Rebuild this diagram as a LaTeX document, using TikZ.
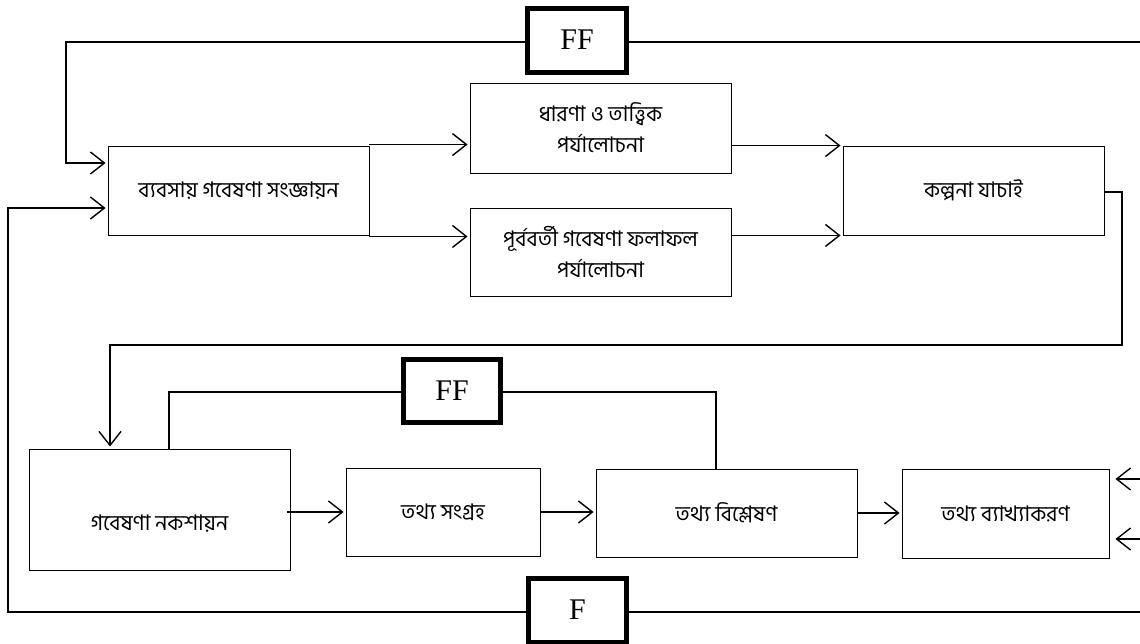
\documentclass[tikz,border=0pt]{standalone}
\usepackage{fontspec}
\setmainfont{Liberation Serif}
\newfontfamily\bnfont[Script=Bengali]{Hind Siliguri}
\usetikzlibrary{arrows.meta}
\begin{document}
\begin{tikzpicture}[x=1pt,y=-1pt,
  box/.style={draw,line width=0.9pt,inner sep=0pt,align=center,font=\bnfont\fontsize{21.5}{31}\selectfont},
  ffbox/.style={draw,line width=5pt,inner sep=0pt,font=\fontsize{30}{31}\selectfont},
  lbl/.style={inner sep=0pt,font=\bnfont\fontsize{21.5}{31}\selectfont},
  conn/.style={line width=1.4pt},
  arr/.style={conn,-{Straight Barb[length=14pt,width=22pt,line width=1.4pt]},shorten >=2pt}]
\useasboundingbox (0,0) rectangle (1140,643);
\fill[white] (0,0) rectangle (1140,643);
% boxes
\node[box,minimum width=261pt,minimum height=89pt] (b1) at (238.5,190.5) {ব্যবসায় গবেষণা সংজ্ঞায়ন};
\node[box,minimum width=261pt,minimum height=90pt] (b2) at (600.5,128) {ধারণা ও তাত্ত্বিক\\পর্যালোচনা};
\node[box,minimum width=261pt,minimum height=88pt] (b3) at (600.5,252) {পূর্ববর্তী গবেষণা ফলাফল\\পর্যালোচনা};
\node[box,minimum width=261pt,minimum height=89pt] (b4) at (973.5,190.5) {কল্পনা যাচাই};
\node[box,minimum width=261pt,minimum height=121pt] (b5) at (159.5,509.5) {};
\node[lbl] (b5t) at (159.5,524) {গবেষণা নকশায়ন};
\node[box,minimum width=194pt,minimum height=88pt] (b6) at (443,512) {তথ্য সংগ্রহ};
\node[box,minimum width=261pt,minimum height=88pt] (b7) at (726.5,513) {তথ্য বিশ্লেষণ};
\node[box,minimum width=207pt,minimum height=89pt] (b8) at (1005.5,513.5) {তথ্য ব্যাখ্যাকরণ};
\node[ffbox,minimum width=99pt,minimum height=64pt] (ff1) at (577,40) {FF};
\node[ffbox,minimum width=97pt,minimum height=63pt] (ff2) at (452,391) {FF};
\node[ffbox,minimum width=98pt,minimum height=64pt] (f) at (577.5,610) {F};
% coordinates
\coordinate (tr) at (1140,42);
\coordinate (l1) at (66,42);
\coordinate (l1b) at (66,163);
\coordinate (br) at (1140,612);
\coordinate (l2) at (8,612);
\coordinate (l2b) at (8,208);
\coordinate (c1) at (1122,345);
\coordinate (c2) at (110,345);
\coordinate (c3) at (169,392);
\coordinate (c4) at (716,392);
\coordinate (r1) at (1140,479);
\coordinate (r2) at (1140,539);
% top feedback
\draw[conn] (tr) -- (tr -| ff1.east);
\draw[arr] (ff1.west |- tr) -- (l1) -- (l1b) -- (l1b -| b1.west);
% bottom feedback
\draw[conn] (br) -- (br -| f.east);
\draw[arr] (f.west |- br) -- (l2) -- (l2b) -- (l2b -| b1.west);
% upper flow
\draw[arr] ([yshift=1pt]b1.north east) -- ([yshift=1pt]b1.north east -| b2.west);
\draw[arr] ([yshift=-1pt]b1.south east) -- ([yshift=-1pt]b1.south east -| b3.west);
\draw[arr] (b2.east |- b4.north west) -- (b4.north west);
\draw[arr] (b3.east |- b4.south west) -- (b4.south west);
% to design
\draw[arr] ([yshift=-1.5pt]b4.east) -| (c1) -- (c2) -- (c2 |- b5.north);
% middle FF
\draw[conn] (c3 |- b5.north) -- (c3) -- (c3 -| ff2.west);
\draw[conn] (c3 -| ff2.east) -- (c4) -- (c4 |- b7.north);
% lower flow
\draw[arr] ([xshift=-3pt]b5.east |- b6.west) -- (b6.west);
\draw[arr] (b6.east) -- (b6.east -| b7.west);
\draw[arr] (b7.east) -- (b7.east -| b8.west);
% right incoming
\draw[arr,shorten >=6pt] (r1) -- (r1 -| b8.east);
\draw[arr,shorten >=6pt] (r2) -- (r2 -| b8.east);
\end{tikzpicture}
\end{document}
